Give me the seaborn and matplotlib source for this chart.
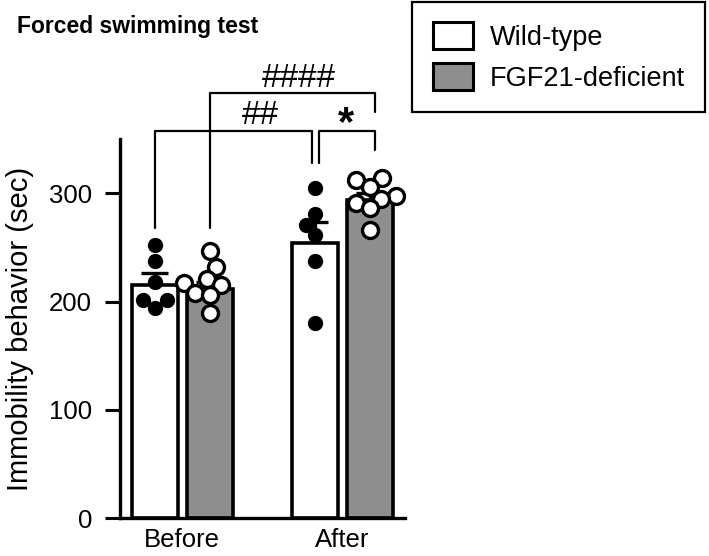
import numpy as np
import pandas as pd
import seaborn as sns
import matplotlib.pyplot as plt
from matplotlib.patches import Patch

# ---- data ----
phases = ["Before", "After"]
genotypes = ["Wild-type", "FGF21-deficient"]

wt_before = [252, 237, 218, 201, 194, 201]
fgf_before = [247, 232, 221, 217, 215, 208, 206, 189]
wt_after = [305, 281, 271, 261, 237, 180]
fgf_after = [314, 312, 306, 297, 295, 291, 286, 266]

# bar heights (mean) and SEM as drawn
wt_mean = [215, 254]
wt_sem = [11, 19]
fgf_mean = [212, 294]
fgf_sem = [6, 6]

# ---- tables ----
bars = pd.DataFrame({
    "phase": phases * 2,
    "genotype": [genotypes[0]] * 2 + [genotypes[1]] * 2,
    "mean": wt_mean + fgf_mean,
    "sem": wt_sem + fgf_sem,
})

rows = []
for ph, vals in zip(phases, [wt_before, wt_after]):
    rows += [(ph, genotypes[0], v) for v in vals]
for ph, vals in zip(phases, [fgf_before, fgf_after]):
    rows += [(ph, genotypes[1], v) for v in vals]
pts = pd.DataFrame(rows, columns=["phase", "genotype", "value"])

# dodge layout
off = {genotypes[0]: -0.172, genotypes[1]: 0.172}
pts["pos"] = pts["phase"].map(phases.index) + pts["genotype"].map(off)
bars["pos"] = bars["phase"].map(phases.index) + bars["genotype"].map(off)

sns.set_style("ticks")
plt.rcParams["font.family"] = ["Liberation Sans", "DejaVu Sans"]
plt.rcParams.update({"text.color": "black", "axes.labelcolor": "black",
                     "xtick.color": "black", "ytick.color": "black"})

fig = plt.figure(figsize=(7.09, 5.56), dpi=100)
ax = fig.add_axes([0.169, 0.068, 0.402, 0.682])

gray = "#8e8e8e"
sns.barplot(data=bars, x="phase", y="mean", hue="genotype", order=phases,
            hue_order=genotypes, palette={genotypes[0]: "white", genotypes[1]: gray},
            width=0.688, gap=0.16, errorbar=None, edgecolor="black",
            linewidth=2.6, legend=False, ax=ax, zorder=2)

# SEM, drawn upward only
for _, r in bars.iterrows():
    top = r["mean"] + r["sem"]
    ax.plot([r["pos"], r["pos"]], [r["mean"], top], color="black", lw=2.4, zorder=3,
            solid_capstyle="butt")
    ax.plot([r["pos"] - 0.085, r["pos"] + 0.085], [top, top], color="black", lw=2.4,
            zorder=3, solid_capstyle="butt")

# swarms: laid out with a smaller marker so they pack like the original
wt = pts[pts["genotype"] == genotypes[0]]
fgf = pts[pts["genotype"] == genotypes[1]]
n0 = len(ax.collections)
sns.swarmplot(x=wt["pos"], y=wt["value"], native_scale=True, color="black",
              size=10, linewidth=0, ax=ax, zorder=4)
n1 = len(ax.collections)
sns.swarmplot(x=fgf["pos"], y=fgf["value"], native_scale=True, color="white",
              edgecolor="black", size=8, linewidth=2.4, ax=ax, zorder=5)
n2 = len(ax.collections)
swarm_wt = ax.collections[n0:n1]
swarm_fgf = ax.collections[n1:n2]

ax.set_xlim(-0.39, 1.39)
ax.set_ylim(0, 350)
ax.set_yticks([0, 100, 200, 300])
ax.set_xticks([0, 1])
ax.set_xticklabels(phases)
ax.set_xlabel("")
ax.set_ylabel("Immobility behavior (sec)", fontsize=21, labelpad=11)
ax.tick_params(axis="y", labelsize=18.5, length=11, width=2.2, pad=9)
ax.tick_params(axis="x", labelsize=18.5, length=0, pad=7)
sns.despine(ax=ax)
for s in ["left", "bottom"]:
    ax.spines[s].set_linewidth(2.4)
    ax.spines[s].set_color("black")

# significance brackets
def bracket(x0, x1, y, y0, y1):
    ax.plot([x0, x0, x1, x1], [y0, y, y, y1], color="black", lw=1.6,
            clip_on=False, zorder=6)

xa, xb = -0.172, 0.828   # wild-type before / after
xc, xd = 0.172, 1.172    # FGF21 before / after
bracket(xa, xb - 0.02, 357, 268, 328)
bracket(xb + 0.025, xd + 0.03, 357, 328, 340)
bracket(xc, xd + 0.03, 392, 268, 375)
ax.text(0.49, 372, "##", ha="center", va="center", fontsize=24)
ax.text(0.73, 406, "####", ha="center", va="center", fontsize=24)
ax.text(1.025, 364, "*", ha="center", va="center", fontsize=30, fontweight="bold")

fig.text(0.024, 0.952, "Forced swimming test", fontsize=16.5, fontweight="bold",
         ha="left", va="center")

handles = [Patch(facecolor="white", edgecolor="black", linewidth=2.2),
           Patch(facecolor=gray, edgecolor="black", linewidth=2.2)]
leg = fig.legend(handles, genotypes, loc="upper right",
                 bbox_to_anchor=(705 / 709, 1 - 2 / 556), fontsize=19.5,
                 frameon=True, fancybox=False, edgecolor="black", framealpha=1,
                 borderpad=0.75, handlelength=1.5, handleheight=1.15,
                 handletextpad=0.6, labelspacing=0.45, borderaxespad=0)
leg.get_frame().set_linewidth(1.6)

# run the swarm layout once, then keep it and enlarge the markers
fig.canvas.draw()
for c in list(swarm_wt) + list(swarm_fgf):
    if "draw" in c.__dict__:
        del c.draw
for c in swarm_wt:
    c.set_sizes([11 ** 2])
for c in swarm_fgf:
    c.set_sizes([11.5 ** 2])

fig.savefig("out.png", dpi=100)
